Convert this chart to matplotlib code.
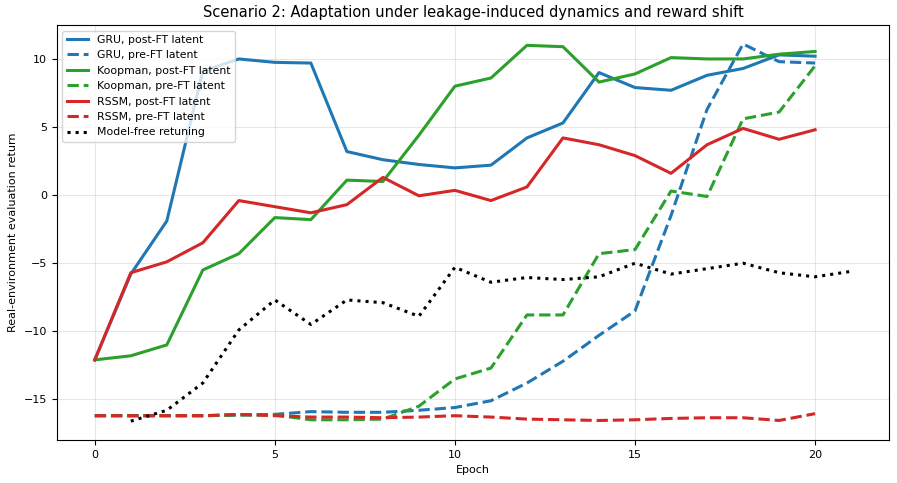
import matplotlib.pyplot as plt
import numpy as np

epochs = np.arange(0, 21)
mf_epochs = np.arange(1, 22)

gru_post = [-12.1, -5.8, -1.9, 9.1, 10.0, 9.75, 9.7, 3.2, 2.6, 2.25, 2.0, 2.2,
            4.2, 5.3, 9.0, 7.9, 7.7, 8.8, 9.3, 10.3, 10.2]
gru_pre = [-16.2, -16.2, -16.2, -16.2, -16.15, -16.1, -15.9, -15.95, -15.95, -15.8, -15.6, -15.1,
           -13.8, -12.2, -10.3, -8.5, -1.5, 6.3, 11.1, 9.8, 9.7]
koop_post = [-12.1, -11.8, -11.0, -5.5, -4.3, -1.65, -1.8, 1.1, 1.0, 4.4, 8.0, 8.6,
             11.0, 10.9, 8.3, 8.9, 10.1, 10.0, 10.0, 10.35, 10.55]
koop_pre = [-16.2, -16.2, -16.2, -16.2, -16.15, -16.15, -16.5, -16.5, -16.45, -15.5, -13.5, -12.7,
            -8.8, -8.8, -4.3, -4.0, 0.3, -0.1, 5.6, 6.1, 9.5]
rssm_post = [-12.1, -5.7, -4.9, -3.5, -0.4, -0.85, -1.3, -0.7, 1.3, -0.05, 0.35, -0.4,
             0.6, 4.2, 3.7, 2.9, 1.6, 3.7, 4.9, 4.1, 4.8]
rssm_pre = [-16.2, -16.2, -16.2, -16.2, -16.1, -16.2, -16.3, -16.3, -16.35, -16.3, -16.2, -16.3,
            -16.45, -16.5, -16.55, -16.5, -16.4, -16.35, -16.35, -16.55, -16.05]
model_free = [-16.6, -15.8, -13.8, -9.9, -7.7, -9.5, -7.7, -7.9, -8.9, -5.3, -6.4,
              -6.05, -6.2, -6.0, -5.0, -5.8, -5.4, -5.0, -5.7, -6.0, -5.6]

plt.rcParams['font.size'] = 8

plt.figure(figsize=(8.97, 4.83), dpi=100)
lw = 2.2
plt.plot(epochs, gru_post, color="#1f77b4", lw=lw, label="GRU, post-FT latent")
plt.plot(epochs, gru_pre, color="#1f77b4", lw=lw, ls="--", label="GRU, pre-FT latent")
plt.plot(epochs, koop_post, color="#2ca02c", lw=lw, label="Koopman, post-FT latent")
plt.plot(epochs, koop_pre, color="#2ca02c", lw=lw, ls="--", label="Koopman, pre-FT latent")
plt.plot(epochs, rssm_post, color="#d62728", lw=lw, label="RSSM, post-FT latent")
plt.plot(epochs, rssm_pre, color="#d62728", lw=lw, ls="--", label="RSSM, pre-FT latent")
plt.plot(mf_epochs, model_free, color="black", lw=lw, ls=":", label="Model-free retuning")

plt.title("Scenario 2: Adaptation under leakage-induced dynamics and reward shift", fontsize=10.5)
plt.xlabel("Epoch")
plt.ylabel("Real-environment evaluation return")
plt.grid(True, alpha=0.3)
plt.legend(loc="upper left", fontsize=7.8)
plt.subplots_adjust(left=0.0635, right=0.991, top=0.948, bottom=0.089)
plt.savefig("out.png")
